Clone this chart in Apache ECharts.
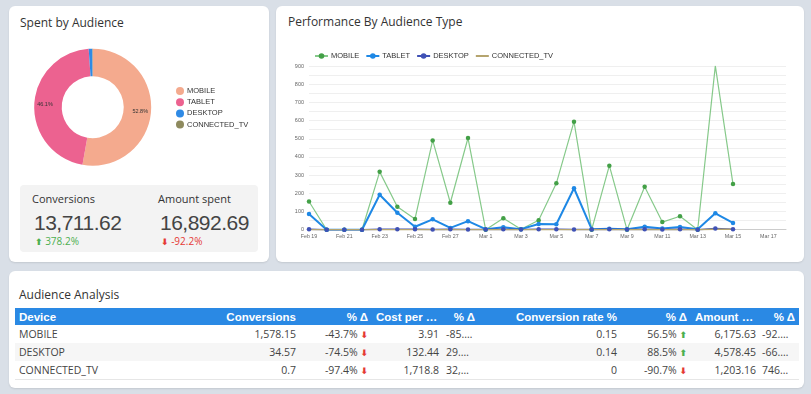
<!DOCTYPE html>
<html><head><meta charset="utf-8">
<script src="https://cdn.jsdelivr.net/npm/echarts@6/dist/echarts.min.js"></script>
<style>
html,body{margin:0;padding:0;width:811px;height:394px;overflow:hidden;background:#d9dfe7;font-family:'Open Sans',sans-serif;color:#333;}
.card{position:absolute;background:#fff;border-radius:6px;box-shadow:0 1px 2px rgba(0,0,0,0.10);}
.abs{position:absolute;white-space:nowrap;}
.title{font-size:12px;color:#333;line-height:18px;}
.kpibox{position:absolute;left:20px;top:185px;width:238px;height:67px;background:#f3f3f3;border-radius:4px;}
.klabel{font-size:11px;line-height:14px;color:#333;}
.knum{font-family:'Liberation Sans',Arial,sans-serif;font-size:21px;line-height:24px;color:#444;letter-spacing:-0.5px;}
.kdelta{font-size:10px;line-height:12px;}
.up{color:#4caf50;} .down{color:#e53935;}
.arr{font-family:'DejaVu Sans',sans-serif;font-weight:bold;font-size:9px;}
table{position:absolute;left:15px;top:308px;width:784px;border-collapse:collapse;table-layout:fixed;}
th{background:#2a89e4;color:#fff;font-family:'Liberation Sans',Arial,sans-serif;font-weight:bold;font-size:11.5px;height:17px;padding:0 4px;white-space:nowrap;overflow:hidden;text-overflow:ellipsis;text-align:right;}
td{font-size:10.5px;height:18px;padding:0 4px;white-space:nowrap;overflow:hidden;text-overflow:ellipsis;text-align:right;color:#444;}
th.l,td.l{text-align:left;}
tr.alt td{background:#f6f6f6;}
tr.last td{border-bottom:1px solid #e6e6e6;}
td.ov5{padding-left:3px;padding-right:5px;text-align:left;}
td.ov9{padding-left:2px;padding-right:9px;text-align:left;}
</style></head>
<body>
<div class="card" style="left:9px;top:6px;width:260px;height:256px;"></div>
<div class="card" style="left:276px;top:6px;width:528px;height:256px;"></div>
<div class="card" style="left:9px;top:271px;width:795px;height:117px;"></div>

<div class="abs title" style="left:20px;top:14px;">Spent by Audience</div>
<div class="abs title" style="left:288px;top:13px;">Performance By Audience Type</div>
<div class="abs title" style="left:19px;top:286px;">Audience Analysis</div>

<div id="pie" style="position:absolute;left:0;top:0;width:270px;height:180px;"></div>
<div id="line" style="position:absolute;left:270px;top:0;width:541px;height:262px;"></div>

<div class="kpibox"></div>
<div id="kpis"></div>
<table id="tbl"></table>

<script>
// ---------- data ----------
const audiences = ['MOBILE', 'TABLET', 'DESKTOP', 'CONNECTED_TV'];
const spentShare = [52.8, 46.1, 1.0, 0.1];

const dates = ['Feb 19','Feb 20','Feb 21','Feb 22','Feb 23','Feb 24','Feb 25','Feb 26','Feb 27','Feb 28',
  'Mar 1','Mar 2','Mar 3','Mar 4','Mar 5','Mar 6','Mar 7','Mar 8','Mar 9','Mar 10','Mar 11','Mar 12',
  'Mar 13','Mar 14','Mar 15','Mar 16','Mar 17','Mar 18'];
const mobile  = [155, 0, 0, 0, 318, 126, 59, 491, 148, 504, 0, 63, 2, 52, 255, 594, 0, 352, 0, 236, 42, 74, 0, 901, 251];
const tablet  = [86, 0, 0, 0, 192, 93, 16, 57, 10, 47, 3, 14, 3, 31, 30, 228, 3, 5, 3, 16, 6, 15, 2, 90, 37];
const desktop = [3, 0, 0, 0, 3, 2, 2, 1, 2, 1, 1, 3, 1, 2, 2, 1, 1, 2, 1, 2, 1, 2, 0, 7, 3];
const connectedTv = [0, 0, 0, 0, 0, 0, 0, 0, 0, 0, 0, 0, 0, 0, 0, 0, 0, 0, 0, 0, 0, 0, 0, 3, 2];
const yTicks = [0, 100, 200, 300, 400, 500, 600, 700, 800, 900];

const kpiLabels = ['Conversions', 'Amount spent'];
const kpiValues = ['13,711.62', '16,892.69'];
const kpiDeltas = ['378.2%', '-92.2%'];
const kpiDirs = ['up', 'down'];

const tableHeaders = ['Device', 'Conversions', '% Δ', 'Cost per conversion', '% Δ', 'Conversion rate %', '% Δ', 'Amount spent', '% Δ'];
const tableDevices = ['MOBILE', 'DESKTOP', 'CONNECTED_TV'];
const tableConversions = ['1,578.15', '34.57', '0.7'];
const tableConvDelta = ['-43.7%', '-74.5%', '-97.4%'];
const tableCost = ['3.91', '132.44', '1,718.8'];
const tableCostDelta = ['-85.24%', '29.31%', '32,415.6%'];
const tableRate = ['0.15', '0.14', '0'];
const tableRateDelta = ['56.5%', '88.5%', '-90.7%'];
const tableAmount = ['6,175.63', '4,578.45', '1,203.16'];
const tableAmountDelta = ['-92.15%', '-66.42%', '746.5%'];

// ---------- colours ----------
const pieColors = ['#f4aa8e', '#ec6290', '#2f8ae5', '#8e8a5e'];

// ---------- pie ----------
const pie = echarts.init(document.getElementById('pie'));
pie.setOption({
  animation: false,
  legend: {
    orient: 'vertical', left: 171, top: 82, icon: 'circle',
    itemWidth: 8, itemHeight: 8, itemGap: 3.2,
    textStyle: { fontFamily: 'Liberation Sans', fontSize: 7.5, color: '#333', padding: [0,0,0,-2] },
    data: audiences
  },
  series: [{
    type: 'pie', center: [92.7, 107.2], radius: [31, 58.5], startAngle: 90, clockwise: true,
    avoidLabelOverlap: false,
    label: {
      position: 'inside', fontSize: 5.5, color: '#333', fontFamily: 'Liberation Sans',
      formatter: p => p.percent >= 5 ? p.value.toFixed(1) + '%' : ''
    },
    labelLine: { show: false },
    itemStyle: { borderWidth: 0 },
    emphasis: { disabled: true },
    data: audiences.map((n, i) => ({ name: n, value: spentShare[i], itemStyle: { color: pieColors[i] } }))
  }]
});

// ---------- line ----------
const line = echarts.init(document.getElementById('line'));
const mk = (name, data, color, lineColor, width, sym) => ({
  name, type: 'line', data, color,
  symbol: sym ? 'circle' : 'none', symbolSize: 4.5, showSymbol: sym,
  lineStyle: { color: lineColor, width },
  itemStyle: { color },
  emphasis: { disabled: true }
});
line.setOption({
  animation: false,
  legend: {
    left: 39, top: 47, itemWidth: 13, itemHeight: 7, itemGap: 6,
    textStyle: { fontFamily: 'Liberation Sans', fontSize: 7.5, color: '#333', padding: [0,0,0,-2] },
    data: audiences.map(n => n === 'CONNECTED_TV'
      ? { name: n, itemStyle: { color: 'rgba(0,0,0,0)', borderWidth: 0 } }
      : { name: n })
  },
  grid: { left: 39, right: 25, top: 66, bottom: 32.3 },
  xAxis: {
    type: 'category', boundaryGap: false, data: dates,
    axisLine: { lineStyle: { color: '#cccccc' } },
    axisTick: { show: false },
    axisLabel: { interval: 1, fontSize: 5.3, color: '#666', margin: 4, fontFamily: 'Liberation Sans' }
  },
  yAxis: {
    type: 'value', min: 0, max: 900, interval: 50,
    axisLine: { show: false }, axisTick: { show: false },
    splitLine: { lineStyle: { color: '#efefef' } },
    axisLabel: { fontSize: 5.5, color: '#666', margin: 5, fontFamily: 'Liberation Sans',
      formatter: v => yTicks.includes(v) ? String(v) : '' }
  },
  series: [
    mk('MOBILE', mobile, '#43a047', '#86c98a', 1.2, true),
    mk('TABLET', tablet, '#1e88e5', '#1e88e5', 2, true),
    mk('DESKTOP', desktop, '#3f51b5', '#3f51b5', 1.5, true),
    mk('CONNECTED_TV', connectedTv, '#b5a46e', '#b5a46e', 1.5, false)
  ]
});

// ---------- KPIs ----------
const kpiX = [32, 158];
let kh = '';
kpiLabels.forEach((l, i) => {
  const x = kpiX[i];
  const arrow = kpiDirs[i] === 'up' ? '⬆' : '⬇';
  kh += `<div class="abs klabel" style="left:${x}px;top:192px;">${l}</div>`;
  kh += `<div class="abs knum" style="left:${x + 2}px;top:211px;">${kpiValues[i]}</div>`;
  kh += `<div class="abs kdelta ${kpiDirs[i]}" style="left:${x + 3}px;top:235px;"><span class="arr">${arrow}</span> ${kpiDeltas[i]}</div>`;
});
document.getElementById('kpis').innerHTML = kh;

// ---------- table ----------
const colW = [185, 100, 72, 71, 36, 142, 70, 69, 39];
const arrowFor = s => s.trim().startsWith('-') ? '<span class="arr down">⬇</span>' : '<span class="arr up">⬆</span>';
let th = '<colgroup>' + colW.map(w => `<col style="width:${w}px">`).join('') + '</colgroup>';
th += '<tr>' + tableHeaders.map((h, i) => `<th class="${i === 0 ? 'l' : ''}">${h}</th>`).join('') + '</tr>';
tableDevices.forEach((d, r) => {
  const cls = (r === 1 ? 'alt ' : '') + (r === tableDevices.length - 1 ? 'last' : '');
  th += `<tr class="${cls}">` +
    `<td class="l">${d}</td>` +
    `<td>${tableConversions[r]}</td>` +
    `<td>${tableConvDelta[r]} ${arrowFor(tableConvDelta[r])}</td>` +
    `<td>${tableCost[r]}</td>` +
    `<td class="ov5">${tableCostDelta[r]}</td>` +
    `<td>${tableRate[r]}</td>` +
    `<td>${tableRateDelta[r]} ${arrowFor(tableRateDelta[r])}</td>` +
    `<td>${tableAmount[r]}</td>` +
    `<td class="ov9">${tableAmountDelta[r]}</td>` +
    '</tr>';
});
document.getElementById('tbl').innerHTML = th;
</script>
</body></html>
